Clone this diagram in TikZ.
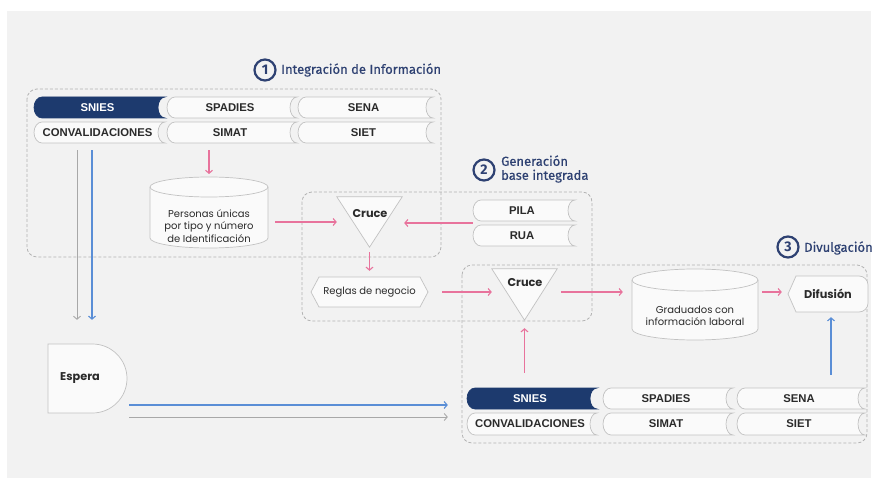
\documentclass[tikz,border=0pt]{standalone}
\usepackage{fontspec}
\setmainfont{Poppins}
\newfontfamily\cellfamily{Liberation Sans}
\newfontfamily\headfamily{Fira Sans}[FakeBold=0.45]
\newfontfamily\numfamily{Fira Sans}
\usetikzlibrary{arrows.meta,calc}
\definecolor{navy}{HTML}{1D3A6E}
\definecolor{headnavy}{HTML}{2E4172}
\definecolor{pinkc}{HTML}{E8739C}
\definecolor{bluec}{HTML}{5A8ED6}
\definecolor{grayc}{HTML}{A8A8A8}
\definecolor{panelc}{HTML}{F2F2F2}
\definecolor{edgec}{HTML}{C2C2C2}
\definecolor{dashc}{HTML}{B3B3B3}
\definecolor{shapefill}{HTML}{FAFAFA}
\definecolor{textc}{HTML}{2A2A2A}
\tikzset{
  cellshape/.style={draw=edgec, fill=shapefill, line width=0.7pt},
  navyshape/.style={draw=navy, fill=navy, line width=0.7pt},
  celltext/.style={inner sep=0pt, font=\cellfamily\bfseries\fontsize{11.3}{13}\selectfont},
  box/.style={draw=edgec, fill=shapefill, line width=0.7pt},
  groupbox/.style={draw=dashc, dash pattern=on 3pt off 2pt, line width=0.8pt, rounded corners=10pt},
  pinkarrow/.style={draw=pinkc, line width=1.1pt, -{Straight Barb[length=3pt,width=7pt]}},
  bluearrow/.style={draw=bluec, line width=1.1pt, -{Straight Barb[length=3pt,width=7pt]}},
  grayarrow/.style={draw=grayc, line width=0.9pt, -{Straight Barb[length=3pt,width=7pt]}},
  numcirc/.style={circle, draw=headnavy, line width=2.2pt, minimum size=21pt, inner sep=0pt, text=headnavy, font=\numfamily\bfseries\fontsize{14}{14}\selectfont},
  headtext/.style={inner sep=0pt, text=headnavy, font=\headfamily\fontsize{13}{14}\selectfont},
  bodytext/.style={inner sep=0pt, text=textc, align=center, font=\fontsize{10}{12.5}\selectfont},
  boldtext/.style={inner sep=0pt, text=textc, font=\bfseries\fontsize{11.3}{13}\selectfont},
}
% data cell: name, x1, y1, x2, y2, shape style, text colour, text
\newcommand{\dcell}[8]{%
  \pgfmathsetmacro\dcym{(#3+#5)/2}%
  \pgfmathsetmacro\dck{(#5-#3)/2*0.552}%
  \draw[#6] (#2+8,#3) -- (#4,#3)
     .. controls (#4-3.9,#3) and (#4-7,\dcym-\dck) .. (#4-7,\dcym)
     .. controls (#4-7,\dcym+\dck) and (#4-3.9,#5) .. (#4,#5)
     -- (#2+8,#5)
     .. controls (#2+3.6,#5) and (#2,\dcym+\dck) .. (#2,\dcym)
     .. controls (#2,\dcym-\dck) and (#2+3.6,#3) .. (#2+8,#3) -- cycle;
  \node[celltext, text=#7, minimum width={(#4-#2-4)*1pt}, minimum height={(#5-#3)*1pt}] (#1) at ({(#2+#4-4)/2},\dcym) {#8};
}
% cylinder: name, x1, ytop, x2, ybottom, ry, text centre y, text
\newcommand{\dcyl}[8]{%
  \pgfmathsetmacro\cyx{(#2+#4)/2}%
  \pgfmathsetmacro\cyk{(#4-#2)/2*0.552}%
  \pgfmathsetmacro\cyr{#6*0.552}%
  \draw[box] (#2,#3+#6) -- (#2,#5-#6)
     .. controls (#2,#5-#6+\cyr) and (\cyx-\cyk,#5) .. (\cyx,#5)
     .. controls (\cyx+\cyk,#5) and (#4,#5-#6+\cyr) .. (#4,#5-#6)
     -- (#4,#3+#6)
     .. controls (#4,#3+#6-\cyr) and (\cyx+\cyk,#3) .. (\cyx,#3)
     .. controls (\cyx-\cyk,#3) and (#2,#3+#6-\cyr) .. (#2,#3+#6) -- cycle;
  \draw[draw=edgec, line width=0.7pt] (#2,#3+#6)
     .. controls (#2,#3+#6+\cyr) and (\cyx-\cyk,#3+2*#6) .. (\cyx,#3+2*#6)
     .. controls (\cyx+\cyk,#3+2*#6) and (#4,#3+#6+\cyr) .. (#4,#3+#6);
  \coordinate (#1-top) at (\cyx,#3);
  \node[bodytext, minimum width={(#4-#2)*1pt}] (#1) at (\cyx,#7) {#8};
}
\begin{document}
\begin{tikzpicture}[x=1pt,y=-1pt]
\useasboundingbox (0,0) rectangle (890,478);
\fill[panelc] (7,11) rectangle (871,478);

% groups
\draw[groupbox] (27,89) rectangle (441,257);
\draw[groupbox] (302,192) rectangle (592,321);
\draw[groupbox] (462,265) rectangle (867,443);

% headings
\node[numcirc] (n1) at (265,70) {1};
\node[headtext, anchor=west] (t1) at (281,70) {Integración de Información};
\node[numcirc] (n2) at (484,170) {2};
\node[headtext, anchor=west, align=left] (t2) at (501,169) {Generación\\base integrada};
\node[numcirc] (n3) at (788,247) {3};
\node[headtext, anchor=west] (t3) at (804,248) {Divulgación};

% top sources
\dcell{sniesA}{34}{97}{165}{118}{navyshape}{white}{SNIES}
\dcell{spadiesA}{167}{97}{297}{118}{cellshape}{textc}{SPADIES}
\dcell{senaA}{298}{97}{433}{118}{cellshape}{textc}{SENA}
\dcell{convA}{34}{122}{165}{143}{cellshape}{textc}{CONVALIDACIONES}
\dcell{simatA}{167}{122}{297}{143}{cellshape}{textc}{SIMAT}
\dcell{sietA}{298}{122}{433}{143}{cellshape}{textc}{SIET}

% bottom sources
\dcell{sniesB}{467}{388}{597}{409}{navyshape}{white}{SNIES}
\dcell{spadiesB}{603}{388}{733}{409}{cellshape}{textc}{SPADIES}
\dcell{senaB}{737}{388}{865}{409}{cellshape}{textc}{SENA}
\dcell{convB}{467}{413}{597}{435}{cellshape}{textc}{CONVALIDACIONES}
\dcell{simatB}{603}{413}{733}{435}{cellshape}{textc}{SIMAT}
\dcell{sietB}{737}{413}{865}{435}{cellshape}{textc}{SIET}

% PILA / RUA
\dcell{pila}{473}{200}{575}{221}{cellshape}{textc}{PILA}
\dcell{rua}{473}{225}{575}{246}{cellshape}{textc}{RUA}

% cylinders
\dcyl{pu}{150}{177}{268}{248}{10}{226}{Personas únicas\\por tipo y número\\de Identificación}
\dcyl{gr}{632}{269}{758}{340}{11}{316}{Graduados con\\información laboral}

% Cruce 1
\node[inner sep=0pt, minimum width=65pt, minimum height=50pt] (cr1) at (369.5,222) {};
\draw[box] (cr1.north west) -- (cr1.north east) -- (cr1.south) -- cycle;
\node[boldtext] (cr1t) at (370,214) {Cruce};

% Cruce 2
\node[inner sep=0pt, minimum width=65pt, minimum height=51pt] (cr2) at (524.5,294.5) {};
\draw[box] (cr2.north west) -- (cr2.north east) -- (cr2.south) -- cycle;
\node[boldtext] (cr2t) at (525,283) {Cruce};

% Reglas de negocio
\draw[box] (311,292) -- (319,277) -- (420,277) -- (428,292) -- (420,307) -- (319,307) -- cycle;
\node[bodytext, minimum width=117pt, minimum height=30pt] (rg) at (369.5,292) {Reglas de negocio};

% Difusion
\draw[box] (788,294) -- (796,276) -- (859,276)
   .. controls (864,276) and (868,280) .. (868,285) -- (868,303)
   .. controls (868,308) and (864,312) .. (859,312) -- (796,312) -- cycle;
\node[boldtext, minimum width=80pt, minimum height=36pt] (dif) at (828,294) {Difusión};

% Espera
\draw[box] (48,344) -- (92.5,344)
   .. controls (111.5,344) and (127,359.5) .. (127,378.5)
   .. controls (127,397.5) and (111.5,413) .. (92.5,413) -- (48,413) -- cycle;
\node[boldtext, minimum width=64pt, minimum height=69pt] (esp) at (80,378.5) {Espera};

% connectors
\draw[pinkarrow] ($(pu-top |- simatA.south)+(0,7)$) -- ($(pu-top)+(0,-3)$);
\draw[pinkarrow] ($(pu.east |- cr1.center)+(7,0)$) -- (cr1.west);
\coordinate (pr) at ($(pila.west)!0.5!(rua.west)$);
\draw[pinkarrow] (pr) -- ($(cr1.east |- pr)+(2,0)$);
\draw[pinkarrow] ($(cr1.south)+(0,5)$) -- ($(rg.north)+(0,-6)$);
\draw[pinkarrow] ($(rg.east)+(14,0)$) -- (cr2.west |- rg.east);
\draw[pinkarrow] ($(cr2.east |- rg.east)+(4,0)$) -- ($(gr.west |- rg.east)+(-9,0)$);
\draw[pinkarrow] ($(gr.east |- rg.east)+(4,0)$) -- ($(dif.west |- rg.east)+(-6,0)$);
\draw[pinkarrow] ($(cr2.south |- sniesB.north)+(0,-15)$) -- ($(cr2.south)+(0,8)$);
\draw[bluearrow] ($(dif.south |- senaB.north)+(3,-13)$) -- ($(dif.south)+(3,5)$);
\draw[grayarrow] ($(esp.north |- convA.south)+(-3,7)$) -- ($(esp.north)+(-3,-24)$);
\draw[bluearrow] ($(esp.north |- convA.south)+(12,7)$) -- ($(esp.north)+(12,-24)$);
\draw[bluearrow] ($(esp.east)+(17,26.5)$) -- ($(sniesB.west |- esp.east)+(-19,26.5)$);
\draw[grayarrow] ($(esp.east)+(17,38.5)$) -- ($(sniesB.west |- esp.east)+(-19,38.5)$);
\end{tikzpicture}
\end{document}
